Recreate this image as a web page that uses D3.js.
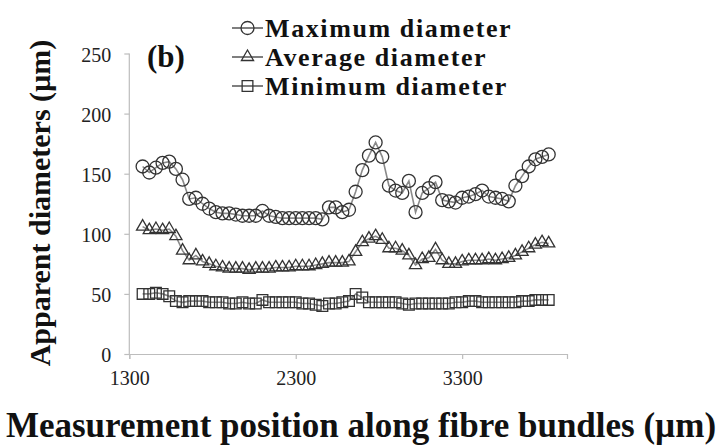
<!DOCTYPE html>
<html><head><meta charset="utf-8">
<script src="https://cdn.jsdelivr.net/npm/d3@7"></script>
<style>body{margin:0;background:#fff}svg{display:block}text{font-family:"Liberation Serif","Times New Roman",serif}</style>
</head><body>
<svg id="c" width="723" height="448"></svg>
<script>
const positions = [1380,1420,1460,1500,1540,1580,1620,1660,1700,1740,1780,1820,1860,1900,1940,1980,2020,2060,2100,2140,2180,2220,2260,2300,2340,2380,2420,2460,2500,2540,2580,2620,2660,2700,2740,2780,2820,2860,2900,2940,2980,3020,3060,3100,3140,3180,3220,3260,3300,3340,3380,3420,3460,3500,3540,3580,3620,3660,3700,3740,3780,3820];
const maxDiameter = [156,151,155,159,160,154,145,129,130,125,121,118,117,117,116,115,115,115,119,115,114,113,113,113,113,113,113,112,122,122,118,120,135,153,165,176,164,140,136,134,144,118,134,138,143,128,127,126,130,131,133,136,131,130,129,127,140,148,156,162,164,166];
const avgDiameter = [106,103,104,103,104,98,86,78,82,77,75,73,72,71,71,71,70,71,71,71,72,72,72,73,73,73,74,75,76,76,76,77,85,93,96,98,95,88,88,86,82,74,79,80,87,78,75,75,77,78,78,78,79,78,79,80,82,85,88,91,93,92];
const minDiameter = [50,50,51,50,48,44,43,44,44,44,43,43,43,42,42,43,42,42,45,43,43,43,43,43,42,42,41,40,42,42,43,44,50,47,43,43,43,43,43,42,41,42,42,42,42,42,42,43,43,44,44,43,43,43,43,43,43,44,44,45,45,45];
const xTicks = [1300,2300,3300];
const yTicks = [0,50,100,150,200,250];
const seriesNames = ["Maximum diameter","Average diameter","Minimum diameter"];
const seriesShapes = ["circle","triangle","square"];
const panelLabel = "(b)";
const xTitle = "Measurement position along fibre bundles (µm)";
const yTitle = "Apparent diameters (µm)";

const svg = d3.select("#c");
const x = d3.scaleLinear().domain([1300,3930]).range([129.3,567]);
const y = d3.scaleLinear().domain([0,250]).range([354,53.5]);
const axisCol = "#bdbdbd", markCol = "#333", lineCol = "#8a8a8a";

// axes
const gx = svg.append("g").attr("transform","translate(0,354)")
  .call(d3.axisBottom(x).tickValues(xTicks).tickSize(5).tickPadding(12).tickFormat(d3.format("d")));
const gy = svg.append("g").attr("transform","translate(129.3,0)")
  .call(d3.axisLeft(y).tickValues(yTicks).tickSize(5).tickPadding(13));
[gx,gy].forEach(g=>{
  g.select(".domain").attr("stroke",axisCol).attr("stroke-width",1.2);
  g.selectAll(".tick line").attr("stroke",axisCol).attr("stroke-width",1.2);
  g.selectAll(".tick text").attr("fill","#222").style("font-size","20px").style("font-family","'Liberation Serif',serif");
});
gy.select(".domain").attr("d","M0,"+y(250)+"V354");
gy.selectAll(".tick text").attr("dy","0.38em");

const symbolFor = {
  circle: d3.symbol().type(d3.symbolCircle).size(Math.PI*6.5*6.5),
  triangle: d3.symbol().type(d3.symbolTriangle).size(64),
  square: d3.symbol().type(d3.symbolSquare).size(115)
};

const data = [maxDiameter, avgDiameter, minDiameter];
const line = d3.line().x((d,i)=>x(positions[i])).y(d=>y(d));
data.forEach((vals,k)=>{
  const g = svg.append("g");
  g.append("path").attr("d",line(vals)).attr("fill","none").attr("stroke",lineCol).attr("stroke-width",1.6);
  g.selectAll("path.m").data(vals).join("path").attr("class","m")
    .attr("transform",(d,i)=>`translate(${x(positions[i])},${y(d)})`)
    .attr("d",symbolFor[seriesShapes[k]]())
    .attr("fill","none").attr("stroke",markCol).attr("stroke-width",1.3);
});

// legend
const legRows = [28,57,86];
seriesNames.forEach((n,k)=>{
  const cy = legRows[k];
  svg.append("line").attr("x1",232).attr("x2",263).attr("y1",cy).attr("y2",cy).attr("stroke","#555").attr("stroke-width",1.5);
  svg.append("path").attr("transform",`translate(247.5,${cy})`).attr("d",symbolFor[seriesShapes[k]]())
    .attr("fill","none").attr("stroke","#333").attr("stroke-width",1.3);
  svg.append("text").attr("x",265).attr("y",cy+9).attr("font-weight","bold").attr("font-size",26)
    .attr("letter-spacing","1.6px").attr("fill","#111").text(n);
});

svg.append("text").attr("x",147).attr("y",67).attr("font-weight","bold").attr("font-size",31).attr("fill","#111").text(panelLabel);

svg.append("text").attr("transform","translate(50,203) rotate(-90)").attr("text-anchor","middle")
  .attr("font-weight","bold").attr("font-size",30).attr("fill","#111").text(yTitle);

svg.append("text").attr("x",361).attr("y",437).attr("text-anchor","middle")
  .attr("font-weight","bold").attr("font-size",35).attr("fill","#111").text(xTitle);
</script>
</body></html>
